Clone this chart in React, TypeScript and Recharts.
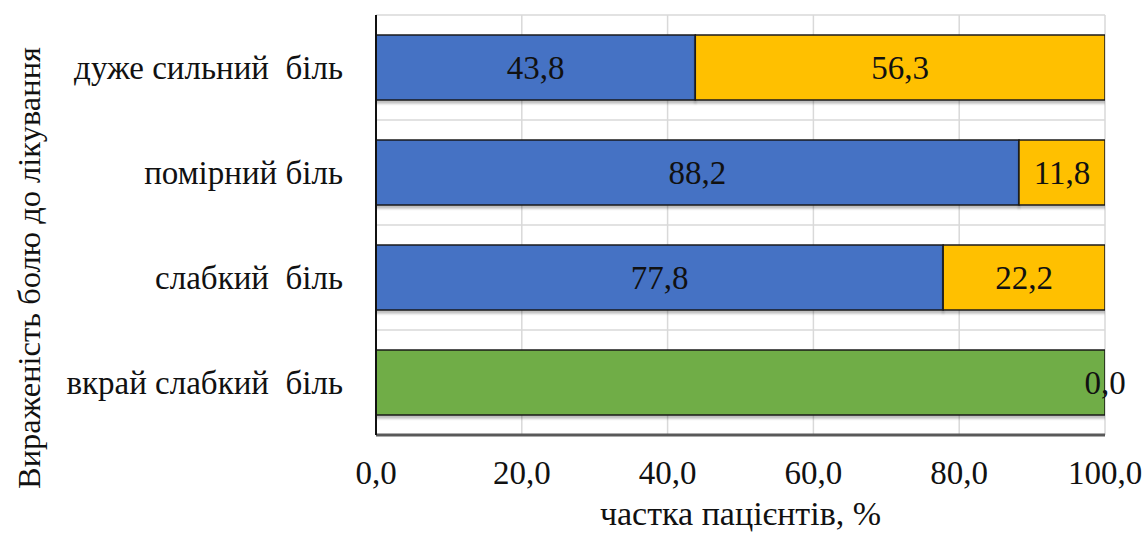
import React from 'react';
import { BarChart, Bar, XAxis, YAxis, CartesianGrid, LabelList } from 'recharts';

const categories = [
    'дуже сильний\u00A0 біль',
    'помірний біль',
    'слабкий\u00A0 біль',
    'вкрай слабкий\u00A0 біль',
];
const blueValues = [43.8, 88.2, 77.8, 0];
const greenValues = [0, 0, 0, 100];
const yellowValues = [56.3, 11.8, 22.2, 0];
const xTicks = [0, 20, 40, 60, 80, 100];

const xTitle = 'частка пацієнтів, %';
const yTitle = 'Вираженість болю до лікування';

const data = categories.map((name, i) => ({
    name,
    blue: blueValues[i],
    green: greenValues[i],
    yellow: yellowValues[i],
}));

const FONT = 'Liberation Serif';
const INK = '#111';
const fmt = (v: number) => v.toFixed(1).replace('.', ',');

const SerifText = ({ size, children, ...rest }: any) => (
    <text fontFamily={FONT} fontSize={size} fill={INK} style={{ fontFamily: FONT }} {...rest}>
        {children}
    </text>
);

const CategoryTick = ({ x, y, payload }: any) => (
    <SerifText x={x} y={y} size={33} textAnchor="end" dominantBaseline="central">
        {payload.value}
    </SerifText>
);

const ValueTick = ({ x, y, payload }: any) => (
    <SerifText x={x} y={y} dy={32} size={33} textAnchor="middle" dominantBaseline="central">
        {fmt(payload.value)}
    </SerifText>
);

const centerLabel = (props: any) => {
    const { x, y, width, height, value } = props;
    if (!value || width <= 0) return null;
    return (
        <SerifText x={x + width / 2} y={y + height / 2} size={33} textAnchor="middle" dominantBaseline="central">
            {fmt(Number(value))}
        </SerifText>
    );
};

// the zero-width yellow segment sits at the green bar's end; its label is drawn there
const endLabel = (props: any) => {
    const { x, y, width, height, value } = props;
    if (!width || width <= 0) return null;
    return (
        <SerifText x={x + width} y={y + height / 2} size={33} textAnchor="middle" dominantBaseline="central">
            {fmt(Number(value))}
        </SerifText>
    );
};

const App: React.FC = () => {
    return (
        <div style={{ position: 'absolute', left: 0, top: 0, background: '#fff' }}>
            <BarChart
                width={1146}
                height={535}
                data={data}
                layout="vertical"
                margin={{ top: 15, right: 41, bottom: 0, left: 0 }}
                barSize={65}
            >
                <defs>
                    <filter id="barShadow" x="-5%" y="-20%" width="110%" height="150%">
                        <feDropShadow dx="0" dy="3" stdDeviation="1" floodColor="#000" floodOpacity="0.25" />
                    </filter>
                </defs>
                <CartesianGrid
                    stroke="#d9d9d9"
                    strokeWidth={1.5}
                    horizontalCoordinatesGenerator={({ offset }: any) => {
                        const step = offset.height / categories.length;
                        return categories.map((_, i) => offset.top + i * step).concat(offset.top + offset.height);
                    }}
                />
                <XAxis
                    type="number"
                    domain={[0, 100]}
                    allowDataOverflow
                    ticks={xTicks}
                    height={100}
                    axisLine={{ stroke: '#595959', strokeWidth: 3 }}
                    tickLine={false}
                    tickMargin={0}
                    tick={<ValueTick />}
                    label={{
                        content: ({ viewBox }: any) => (
                            <SerifText x={viewBox.x + viewBox.width / 2} y={viewBox.y + 90} size={34} textAnchor="middle">
                                {xTitle}
                            </SerifText>
                        ),
                    }}
                />
                <YAxis
                    type="category"
                    dataKey="name"
                    width={376}
                    axisLine={{ stroke: INK, strokeWidth: 2 }}
                    tickLine={false}
                    tickMargin={27}
                    tick={<CategoryTick />}
                    label={{
                        content: ({ viewBox }: any) => {
                            const cx = 29;
                            const cy = viewBox.y + viewBox.height / 2 + 43;
                            return (
                                <SerifText
                                    x={cx}
                                    y={cy}
                                    transform={`rotate(-90 ${cx} ${cy})`}
                                    size={32.5}
                                    textAnchor="middle"
                                    dominantBaseline="central"
                                >
                                    {yTitle}
                                </SerifText>
                            );
                        },
                    }}
                />
                <Bar dataKey="blue" stackId="a" fill="#4472C4" stroke="#1a1a1a" strokeWidth={1.5} filter="url(#barShadow)" isAnimationActive={false}>
                    <LabelList dataKey="blue" content={centerLabel} />
                </Bar>
                <Bar dataKey="green" stackId="a" fill="#70AD47" stroke="#1a1a1a" strokeWidth={1.5} filter="url(#barShadow)" isAnimationActive={false}>
                    <LabelList dataKey="yellow" content={endLabel} />
                </Bar>
                <Bar dataKey="yellow" stackId="a" fill="#FFC000" stroke="#1a1a1a" strokeWidth={1.5} filter="url(#barShadow)" isAnimationActive={false}>
                    <LabelList dataKey="yellow" content={centerLabel} />
                </Bar>
            </BarChart>
        </div>
    );
};

export default App;
